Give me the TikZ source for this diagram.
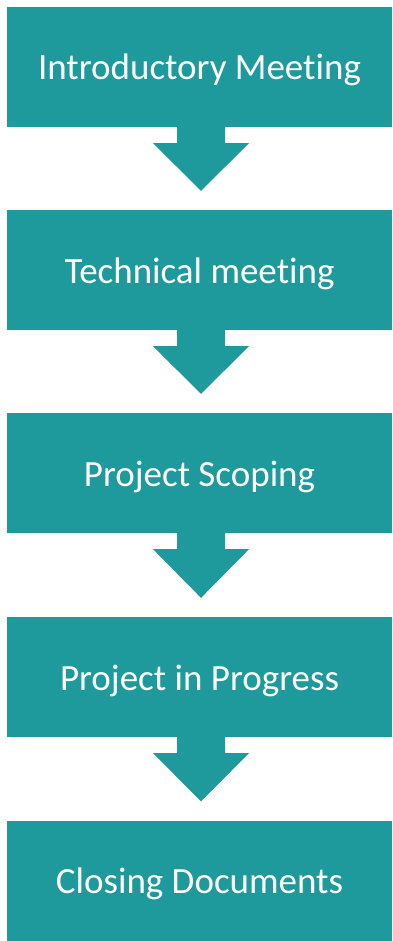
\documentclass[tikz,border=0pt]{standalone}
\usepackage{fontspec}
\setmainfont[Ligatures=NoCommon]{Carlito}
\usetikzlibrary{calc}
\definecolor{stepteal}{HTML}{1E9A9D}
% block arrow from the foot of one box towards the next
\newcommand{\flowarrow}[2]{%
 \fill[stepteal] ($(#1.south)+(-22.5,0)$) -- ($(#1.south)+(25.5,0)$)
  -- ($(#1.south)+(25.5,16)$) -- ($(#1.south)+(49.5,16)$)
  -- ($(#2.north)+(1.5,-19)$)
  -- ($(#1.south)+(-46.5,16)$) -- ($(#1.south)+(-22.5,16)$) -- cycle;}
\begin{document}
\begin{tikzpicture}[x=1pt,y=-1pt,
 stepbox/.style={fill=stepteal,text=white,minimum width=385pt,minimum height=120pt,
  inner sep=0pt,text height=26pt,text depth=0pt,font=\fontsize{37}{44}\selectfont}]
 \useasboundingbox (0,0) rectangle (392,941);
 \node[stepbox] (intro) at (199.5,67) {Introductory Meeting};
 \node[stepbox] (tech) at (199.5,270) {Technical meeting};
 \node[stepbox] (scope) at (199.5,473) {Project Scoping};
 \node[stepbox] (progress) at (199.5,677) {Project in Progress};
 \node[stepbox] (closing) at (199.5,880.5) {Closing Documents};
 \flowarrow{intro}{tech}
 \flowarrow{tech}{scope}
 \flowarrow{scope}{progress}
 \flowarrow{progress}{closing}
\end{tikzpicture}
\end{document}
